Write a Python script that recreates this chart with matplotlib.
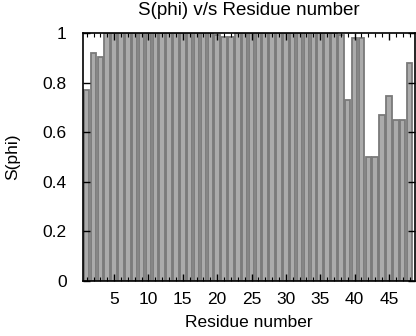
import matplotlib
matplotlib.use("Agg")
import matplotlib.pyplot as plt
from matplotlib.ticker import MultipleLocator
import numpy as np

plt.rcParams['font.family'] = ['Liberation Sans', 'DejaVu Sans']

# S(phi) order parameter per residue
residues = np.arange(1, 49)
s_phi = [0.77, 0.92, 0.905, 1.0, 1.0, 1.0, 1.0, 1.0, 1.0, 1.0,
         1.0, 1.0, 1.0, 1.0, 1.0, 1.0, 1.0, 1.0, 1.0, 0.99,
         0.985, 0.985, 1.0, 1.0, 1.0, 1.0, 1.0, 1.0, 1.0, 1.0,
         1.0, 1.0, 1.0, 1.0, 1.0, 1.0, 1.0, 0.99, 0.73, 0.98,
         0.98, 0.50, 0.50, 0.67, 0.745, 0.65, 0.65, 0.88]
y_ticks = [0, 0.2, 0.4, 0.6, 0.8, 1]
y_ticklabels = ['0', '0.2', '0.4', '0.6', '0.8', '1']
x_ticks = [5, 10, 15, 20, 25, 30, 35, 40, 45]

fig = plt.figure(figsize=(4.16, 3.36), dpi=100)
ax = fig.add_axes([0.2, 0.1637, 0.7976, 0.7381])

ax.bar(residues, s_phi, width=0.8, color='#ababab', edgecolor='#7a7a7a',
       linewidth=1.3)

ax.set_xlim(0.5, 48.8)
ax.set_ylim(0, 1)
ax.set_xticks(x_ticks)
ax.xaxis.set_minor_locator(MultipleLocator(1))
ax.set_yticks(y_ticks)
ax.set_yticklabels(y_ticklabels)

ax.tick_params(which='both', direction='in', top=True, right=True,
               labelsize=12.5, colors='black', pad=8)
ax.tick_params(which='major', length=5, width=1)
ax.tick_params(which='minor', length=3, width=0.8)
ax.tick_params(axis='y', pad=12)
for sp in ax.spines.values():
    sp.set_linewidth(1.2)

ax.set_title('S(phi) v/s Residue number', fontsize=13.5, pad=13)
ax.set_xlabel('Residue number', fontsize=12.5, labelpad=6)
ax.set_ylabel('S(phi)', fontsize=12.5, labelpad=16)

fig.savefig('out.png', dpi=100)
